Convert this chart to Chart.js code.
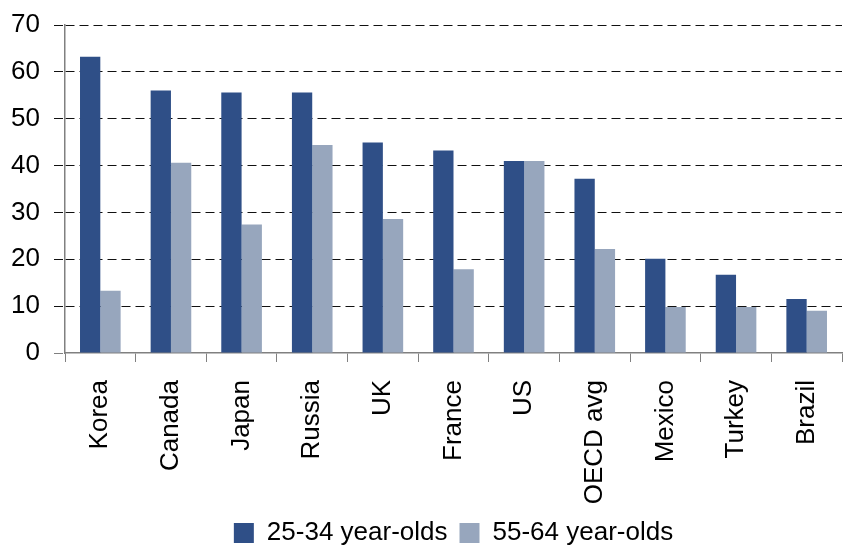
<!DOCTYPE html>
<html lang="en">
<head>
    <meta charset="UTF-8">
    <title>Tertiary attainment by age group</title>
    <script src="https://cdn.jsdelivr.net/npm/chart.js"></script>
    <style>
        html, body { margin: 0; padding: 0; background: #fff; }
        #chart-container { width: 843px; height: 546px; }
    </style>
</head>
<body>
    <div id="chart-container">
        <canvas id="ageChart"></canvas>
    </div>

    <script>
    const countries = ['Korea', 'Canada', 'Japan', 'Russia', 'UK', 'France', 'US', 'OECD avg', 'Mexico', 'Turkey', 'Brazil'];
    const young = [63.2, 56.0, 55.6, 55.6, 44.9, 43.2, 41.0, 37.2, 20.1, 16.7, 11.5];
    const older = [13.3, 40.6, 27.4, 44.4, 28.6, 17.9, 41.0, 22.2, 9.8, 9.8, 9.0];
    const seriesNames = ['25-34 year-olds', '55-64 year-olds'];

    const font = "'Liberation Sans', Arial, sans-serif";
    const axisGrey = '#808080';

    new Chart(document.getElementById('ageChart'), {
        type: 'bar',
        data: {
            labels: countries,
            datasets: [
                { label: seriesNames[0], data: young, backgroundColor: '#2F4F87' },
                { label: seriesNames[1], data: older, backgroundColor: '#97A6BD' }
            ]
        },
        options: {
            responsive: true,
            maintainAspectRatio: false,
            animation: false,
            layout: { padding: { top: 25, right: 1, left: 0, bottom: -10 } },
            datasets: {
                bar: { categoryPercentage: 0.575, barPercentage: 1.0 }
            },
            scales: {
                x: {
                    // fixed height so the plot area ends where the legend starts
                    afterFit: scale => {
                        scale.height = 155;
                        scale.paddingLeft = 0;
                        scale.paddingRight = 0;
                    },
                    grid: {
                        offset: true,
                        drawOnChartArea: false,
                        tickLength: 9,
                        tickColor: axisGrey
                    },
                    border: { display: true, color: axisGrey, width: 1.5 },
                    ticks: {
                        minRotation: 90,
                        maxRotation: 90,
                        padding: 18,
                        color: '#000',
                        font: { family: font, size: 26 }
                    }
                },
                y: {
                    min: 0,
                    max: 70,
                    afterFit: scale => {
                        scale.width = 65;
                        scale.paddingTop = 0;
                        scale.paddingBottom = 0;
                    },
                    grid: {
                        // the zero line is the x axis itself
                        color: ctx => ctx.tick && ctx.tick.value === 0 ? 'rgba(0,0,0,0)' : '#111',
                        tickColor: ctx => ctx.tick && ctx.tick.value === 0 ? axisGrey : '#111',
                        tickLength: 11,
                        tickBorderDash: [9, 5]
                    },
                    border: { display: true, color: axisGrey, width: 1.5, dash: [9, 5] },
                    ticks: {
                        stepSize: 10,
                        padding: 14,
                        color: '#000',
                        font: { family: font, size: 26 }
                    }
                }
            },
            plugins: {
                tooltip: { enabled: false },
                legend: {
                    position: 'bottom',
                    fullSize: false,
                    labels: {
                        boxWidth: 20,
                        boxHeight: 20,
                        padding: 12,
                        color: '#000',
                        font: { family: font, size: 26 }
                    }
                }
            }
        }
    });
    </script>
</body>
</html>
